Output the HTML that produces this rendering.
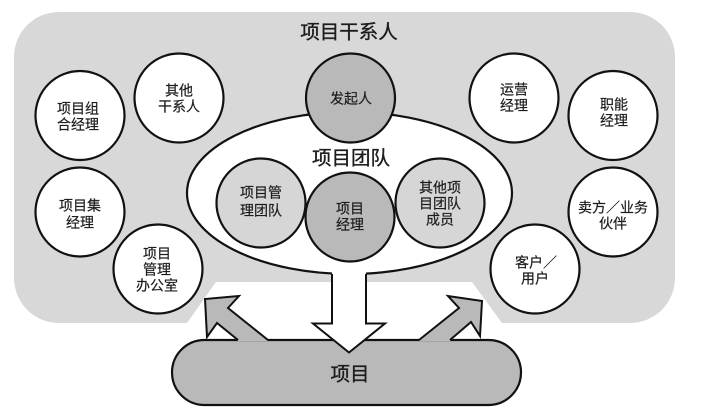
<!DOCTYPE html>
<html lang="zh">
<head>
<meta charset="utf-8">
<style>
html,body{margin:0;padding:0;background:#fff;width:713px;height:414px;overflow:hidden}
svg{display:block}
text{font-family:"Liberation Sans","Noto Sans CJK SC",sans-serif;fill:#1c1c1c;stroke:#1c1c1c;stroke-width:.2px;text-anchor:middle;dominant-baseline:central;font-size:14px}
.t{font-size:19.5px;stroke-width:.35px}
</style>
</head>
<body>
<svg width="713" height="414" viewBox="0 0 713 414" xmlns="http://www.w3.org/2000/svg">
<path d="M59 12H630A45 45 0 0 1 675 57V278A45 45 0 0 1 630 323H502L472 282H216L187 323H59A45 45 0 0 1 14 278V57A45 45 0 0 1 59 12Z" fill="#d8d8d8"/>
<g stroke="#111" stroke-width="2.2" fill="#fff">
<circle cx="80" cy="115.5" r="44.5"/>
<circle cx="179" cy="98" r="44.5"/>
<circle cx="514" cy="98" r="44.5"/>
<circle cx="613" cy="115.5" r="44.5"/>
<circle cx="80" cy="212" r="44.5"/>
<circle cx="613" cy="212" r="44.5"/>
<circle cx="158" cy="269" r="44.5"/>
<circle cx="535" cy="269" r="44.5"/>
<ellipse cx="349.5" cy="193" rx="162.5" ry="81"/>
<circle cx="350.5" cy="98" r="44.5" fill="#b9b9b9"/>
<circle cx="261" cy="203" r="44.5" fill="#d6d6d6"/>
<circle cx="440" cy="203" r="44.5" fill="#d6d6d6"/>
<circle cx="350" cy="217" r="44.5" fill="#b9b9b9"/>
<rect x="172" y="340" width="349" height="65" rx="32.5" ry="32.5" fill="#b9b9b9"/>
</g>
<!-- up arrows -->
<polygon points="205,299 239,296 228,308 268,341 238,341 217,323 207,337" fill="#b9b9b9"/>
<polyline points="268,340 228,308 239,296 205,299 207,337 217,323 238,340" fill="none" stroke="#111" stroke-width="2"/>
<polygon points="482,301 448,296 459,308 419,341 450,341 471,322 480,336" fill="#b9b9b9"/>
<polyline points="419,340 459,308 448,296 482,301 480,336 471,322 450,340" fill="none" stroke="#111" stroke-width="2"/>
<!-- down arrow -->
<polygon points="332,270 366,270 366,323.5 385,323.5 349,352.5 313,323.5 332,323.5" fill="#fff"/>
<polyline points="332,274 332,323.5 313,323.5 349,352.5 385,323.5 366,323.5 366,274" fill="none" stroke="#111" stroke-width="2"/>
<text class="t" x="349" y="32.5">项目干系人</text>
<text class="t" x="351" y="158.5">项目团队</text>
<text class="t" x="350" y="374.5">项目</text>
<text x="78" y="108.5">项目组</text><text x="78" y="124.5">合经理</text>
<text x="179" y="90.5">其他</text><text x="179" y="106.5">干系人</text>
<text x="351" y="98.5">发起人</text>
<text x="514" y="89.5">运营</text><text x="514" y="105.5">经理</text>
<text x="614" y="104.5">职能</text><text x="614" y="120.5">经理</text>
<text x="80" y="205.5">项目集</text><text x="80" y="222.5">经理</text>
<text x="613" y="207.5">卖方／业务</text><text x="613" y="223.5">伙伴</text>
<text x="157" y="253.5">项目</text><text x="157" y="269.5">管理</text><text x="157" y="285.5">办公室</text>
<text x="536" y="262.5">客户／</text><text x="535" y="278.5">用户</text>
<text x="261" y="192.5">项目管</text><text x="261" y="210.5">理团队</text>
<text x="350" y="208.5">项目</text><text x="350" y="224.5">经理</text>
<text x="440" y="187.5">其他项</text><text x="440" y="203.5">目团队</text><text x="440" y="219.5">成员</text>
</svg>
</body>
</html>
